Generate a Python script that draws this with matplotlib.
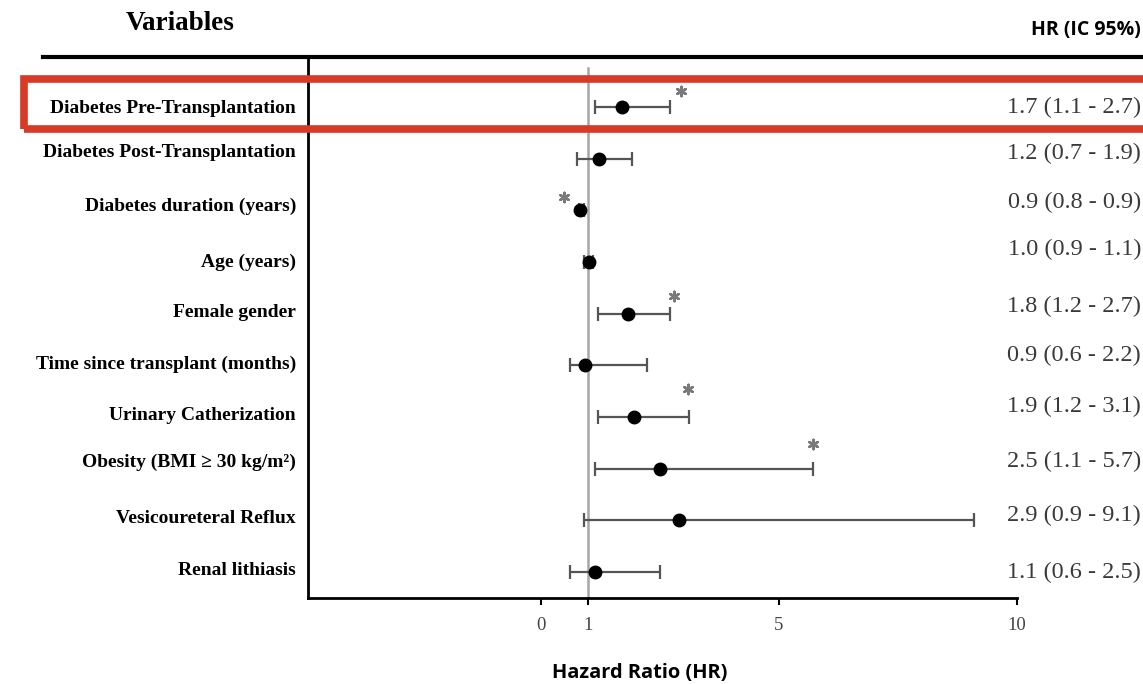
"""Forest plot: hazard ratios (95% CI) for the risk factors, one row per variable."""
import matplotlib
matplotlib.use("Agg")
import matplotlib.pyplot as plt
from matplotlib.lines import Line2D
from matplotlib.patches import Rectangle
from matplotlib.transforms import blended_transform_factory

variables = ["Diabetes Pre-Transplantation", "Diabetes Post-Transplantation",
             "Diabetes duration (years)", "Age (years)", "Female gender",
             "Time since transplant (months)", "Urinary Catherization",
             "Obesity (BMI \u2265 30 kg/m\u00b2)", "Vesicoureteral Reflux", "Renal lithiasis"]
hr = [1.70, 1.23, 0.83, 1.02, 1.82, 0.93, 1.95, 2.51, 2.91, 1.14]
ci_lo = [1.14, 0.75, 0.80, 0.90, 1.21, 0.62, 1.21, 1.14, 0.90, 0.62]
ci_hi = [2.72, 1.92, 0.90, 1.10, 2.72, 2.22, 3.12, 5.71, 9.09, 2.51]
hr_text = ["1.7 (1.1 - 2.7)", "1.2 (0.7 - 1.9)", "0.9 (0.8 - 0.9)", "1.0 (0.9 - 1.1)",
           "1.8 (1.2 - 2.7)", "0.9 (0.6 - 2.2)", "1.9 (1.2 - 3.1)", "2.5 (1.1 - 5.7)",
           "2.9 (0.9 - 9.1)", "1.1 (0.6 - 2.5)"]
# x of the significance asterisk (None = not significant)
star_x = [2.95, None, 0.48, None, 2.80, None, 3.10, 5.71, None, None]
xticks = [0, 1, 5, 10]

SERIF = ["Liberation Serif", "DejaVu Serif"]
SANS = ["Open Sans", "DejaVu Sans"]

W, H = 1143, 684
fig = plt.figure(figsize=(W / 100, H / 100), dpi=100)
ax = fig.add_axes([308 / W, 1 - 598 / H, (1017 - 308) / W, (598 - 57) / H])

rows = list(range(len(variables)))
ax.set_xlim(-4.89, 10)
ax.set_ylim(9.50, -0.968)

ax.plot([1, 1], [-0.755, 9.50], color="#a6a6a6", lw=1.8, zorder=1)
ax.errorbar(hr, rows, xerr=[[h - l for h, l in zip(hr, ci_lo)], [u - h for h, u in zip(hr, ci_hi)]],
            fmt="o", color="black", ms=9, ecolor="#555555", elinewidth=1.6,
            capsize=5, capthick=1.6, zorder=3)

star_dy = [-0.31, 0, -0.25, 0, -0.35, 0, -0.54, -0.48, 0, 0]
sx = [x for x in star_x if x is not None]
sy = [r + d for r, x, d in zip(rows, star_x, star_dy) if x is not None]
ax.scatter(sx, sy, marker=(6, 2, 0), s=45, color="#7a7a7a", linewidths=1.8, zorder=3)

# left-hand variable names and right-hand HR text
text_dy = [0.02, -0.12, -0.08, 0, -0.02, -0.03, -0.03, -0.13, -0.03, -0.03]
hr_dy = [0, -0.1, -0.15, -0.25, -0.15, -0.2, -0.2, -0.15, -0.1, 0]
right_tr = blended_transform_factory(fig.transFigure, ax.transData)
for r, name, t, d1, d2 in zip(rows, variables, hr_text, text_dy, hr_dy):
    ax.text(-5.14, r + d1, name, ha="right", va="center", fontsize=14,
            fontweight="bold", family=SERIF, clip_on=False)
    ax.text(1141 / W, r + d2, t, ha="right", va="center", fontsize=17.5,
            color="#3a3a3a", family=SERIF, transform=right_tr, clip_on=False)

for s in ["top", "right"]:
    ax.spines[s].set_visible(False)
ax.spines["left"].set_linewidth(2)
ax.spines["bottom"].set_linewidth(2)
ax.set_yticks([])
ax.set_xticks(xticks)
ax.set_xticklabels([str(t) for t in xticks], family=SERIF, fontsize=13.5, color="#444444")
ax.tick_params(axis="x", direction="out", length=5, width=1.5, pad=9)
fig.text(640 / W, 1 - 673 / H, "Hazard Ratio (HR)", ha="center", va="center",
         family=SANS, fontweight="bold", fontsize=14.4)

# header
fig.text(180 / W, 1 - 23 / H, "Variables", ha="center", va="center", fontsize=19.5,
         fontweight="bold", family=SERIF)
fig.text(1141 / W, 1 - 30 / H, "HR (IC 95%)", ha="right", va="center", fontsize=14,
         fontweight="bold", family=SANS)
fig.add_artist(Line2D([43 / W, 1.0], [1 - 57 / H, 1 - 57 / H], color="black", lw=3))

# red highlight box around the first row
fig.add_artist(Rectangle((24 / W, 1 - 128.5 / H), 1.05, 50 / H, transform=fig.transFigure,
                         fill=False, edgecolor="#d93a26", lw=5.5))

fig.savefig("out.png", dpi=100)
